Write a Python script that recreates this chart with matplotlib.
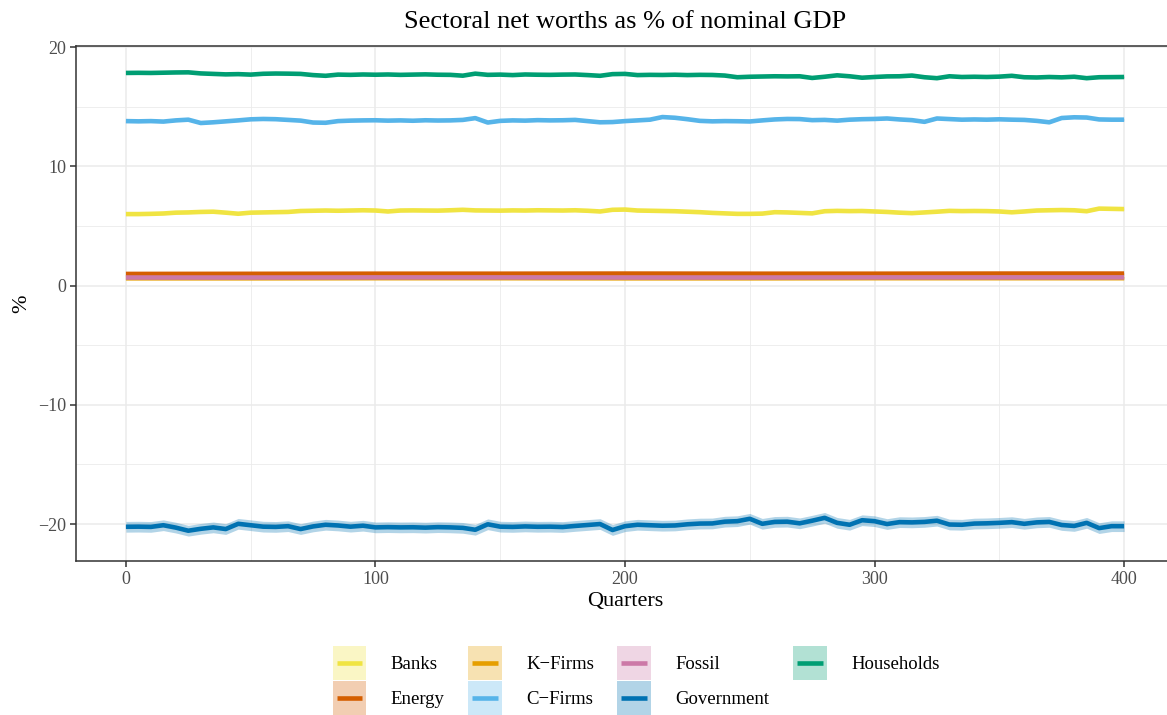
import numpy as np
import matplotlib.pyplot as plt
from matplotlib.patches import Rectangle
from matplotlib.lines import Line2D
from matplotlib.legend_handler import HandlerBase

plt.rcParams['font.family'] = ['Liberation Serif', 'DejaVu Serif']

# quarters sampled every 5 for the noisy series, every 50 for the flat ones
quarters = np.arange(0, 401, 5)
quarters_flat = np.arange(0, 401, 50)

households = [17.84, 17.85, 17.84, 17.86, 17.88, 17.89, 17.80, 17.76, 17.72, 17.74,
              17.70, 17.77, 17.79, 17.78, 17.76, 17.66, 17.60, 17.70, 17.68, 17.71,
              17.69, 17.71, 17.68, 17.70, 17.72, 17.69, 17.68, 17.61, 17.78, 17.68,
              17.70, 17.66, 17.71, 17.69, 17.68, 17.70, 17.71, 17.66, 17.60, 17.74,
              17.76, 17.66, 17.68, 17.67, 17.69, 17.66, 17.68, 17.67, 17.62, 17.48,
              17.52, 17.54, 17.56, 17.55, 17.56, 17.42, 17.52, 17.64, 17.56, 17.44,
              17.50, 17.55, 17.56, 17.62, 17.48, 17.40, 17.56, 17.50, 17.52, 17.50,
              17.53, 17.60, 17.48, 17.46, 17.50, 17.47, 17.52, 17.40, 17.48, 17.49,
              17.50]

c_firms = [13.80, 13.78, 13.80, 13.76, 13.86, 13.92, 13.64, 13.70, 13.78, 13.86,
           13.95, 13.98, 13.96, 13.90, 13.84, 13.68, 13.66, 13.80, 13.84, 13.86,
           13.87, 13.84, 13.86, 13.83, 13.87, 13.85, 13.86, 13.90, 14.05, 13.68,
           13.82, 13.86, 13.84, 13.88, 13.86, 13.87, 13.90, 13.80, 13.70, 13.72,
           13.80, 13.86, 13.92, 14.14, 14.08, 13.96, 13.82, 13.78, 13.80, 13.79,
           13.77, 13.86, 13.94, 13.98, 13.97, 13.88, 13.90, 13.84, 13.92, 13.96,
           13.98, 14.02, 13.94, 13.88, 13.74, 14.02, 13.97, 13.92, 13.94, 13.92,
           13.95, 13.92, 13.90, 13.82, 13.70, 14.06, 14.12, 14.10, 13.94, 13.92,
           13.92]

banks = [6.00, 6.00, 6.02, 6.05, 6.12, 6.14, 6.18, 6.20, 6.12, 6.03,
         6.12, 6.14, 6.16, 6.18, 6.26, 6.28, 6.30, 6.28, 6.30, 6.32,
         6.30, 6.22, 6.30, 6.31, 6.30, 6.29, 6.32, 6.36, 6.31, 6.30,
         6.29, 6.31, 6.30, 6.32, 6.31, 6.30, 6.32, 6.28, 6.22, 6.36,
         6.38, 6.30, 6.28, 6.26, 6.24, 6.20, 6.16, 6.10, 6.06, 6.02,
         6.02, 6.04, 6.16, 6.14, 6.10, 6.06, 6.24, 6.27, 6.25, 6.26,
         6.22, 6.18, 6.12, 6.08, 6.14, 6.20, 6.27, 6.25, 6.26, 6.25,
         6.22, 6.15, 6.22, 6.30, 6.32, 6.34, 6.32, 6.24, 6.46, 6.44,
         6.42]

government = [-20.23, -20.22, -20.24, -20.10, -20.30, -20.56, -20.40, -20.28, -20.42, -19.98,
              -20.10, -20.22, -20.24, -20.18, -20.42, -20.20, -20.06, -20.12, -20.22, -20.14,
              -20.28, -20.26, -20.28, -20.27, -20.30, -20.26, -20.28, -20.32, -20.48, -20.02,
              -20.22, -20.24, -20.20, -20.23, -20.22, -20.25, -20.16, -20.08, -20.00, -20.50,
              -20.18, -20.06, -20.10, -20.14, -20.12, -20.02, -19.96, -19.95, -19.80, -19.76,
              -19.56, -19.98, -19.82, -19.80, -19.94, -19.72, -19.48, -19.90, -20.06, -19.68,
              -19.76, -20.00, -19.84, -19.86, -19.82, -19.72, -20.04, -20.06, -19.96, -19.94,
              -19.90, -19.84, -19.98, -19.86, -19.82, -20.08, -20.16, -19.90, -20.34, -20.18,
              -20.18]

energy = [0.98, 0.99, 1.00, 1.00, 1.01, 1.00, 1.00, 1.01, 1.01]
k_firms = [0.62, 0.62, 0.63, 0.63, 0.62, 0.62, 0.63, 0.63, 0.63]
fossil = [0.68, 0.68, 0.69, 0.69, 0.68, 0.68, 0.69, 0.69, 0.69]

# name, x, values, colour, half width of the shaded band
series = [
    ('Banks', quarters, banks, '#F0E442', 0.1),
    ('Energy', quarters_flat, energy, '#D55E00', 0.06),
    ('K\u2212Firms', quarters_flat, k_firms, '#E69F00', 0.15),
    ('C\u2212Firms', quarters, c_firms, '#56B4E9', 0.1),
    ('Fossil', quarters_flat, fossil, '#CC79A7', 0.06),
    ('Government', quarters, government, '#0072B2', 0.45),
    ('Households', quarters, households, '#009E73', 0.08),
]


# legend key: shaded square with a short line across the middle
class KeyHandler(HandlerBase):
    def create_artists(self, legend, orig_handle, xdescent, ydescent,
                       width, height, fontsize, trans):
        box = Rectangle((-xdescent, -ydescent), width, height,
                        facecolor=orig_handle, alpha=0.3, lw=0, transform=trans)
        ym = -ydescent + height / 2
        line = Line2D([-xdescent + 0.12 * width, -xdescent + 0.88 * width], [ym, ym],
                      color=orig_handle, lw=3.3, solid_capstyle='butt', transform=trans)
        return [box, line]


fig = plt.figure(figsize=(11.67, 7.15), dpi=100)
ax = fig.add_axes([76 / 1167, 154 / 715, 1098 / 1167, 515 / 715])

# ribbons first, then lines on top (like ggplot layers)
for name, x, y, col, spread in series:
    y = np.array(y)
    ax.fill_between(x, y - spread, y + spread, color=col, alpha=0.3, lw=0)
for name, x, y, col, spread in series:
    ax.plot(x, y, color=col, lw=3.3, solid_capstyle='butt')

ax.set_xlim(-20, 420)
ax.set_ylim(-23.1, 20.1)
ax.set_xticks([0, 100, 200, 300, 400])
ax.set_xticks([50, 150, 250, 350], minor=True)
ax.set_yticks([-20, -10, 0, 10, 20])
ax.set_yticks([-15, -5, 5, 15], minor=True)
ax.grid(which='major', color='#EBEBEB', lw=1.1)
ax.grid(which='minor', color='#EBEBEB', lw=0.6)
ax.set_axisbelow(True)
ax.tick_params(which='major', length=4, width=1.1, color='#333333',
               labelsize=13, labelcolor='#4D4D4D', pad=3)
ax.tick_params(which='minor', length=0)
for s in ax.spines.values():
    s.set_color('#333333')
    s.set_linewidth(1.1)

ax.set_title('Sectoral net worths as % of nominal GDP', fontsize=19, pad=13)
ax.set_xlabel('Quarters', fontsize=16, labelpad=3)
ax.set_ylabel('%', fontsize=16, labelpad=5)

cols = [s[3] for s in series]
fig.legend(cols, [s[0] for s in series], handler_map={str: KeyHandler()},
           ncol=4, loc='center', bbox_to_anchor=(636 / 1167, 1 - 680.5 / 715),
           frameon=False, fontsize=13.5, handlelength=1.8, handleheight=2.4,
           handletextpad=1.3, columnspacing=1.25, labelspacing=0.05,
           borderpad=0)

fig.savefig('out.png', dpi=100)
